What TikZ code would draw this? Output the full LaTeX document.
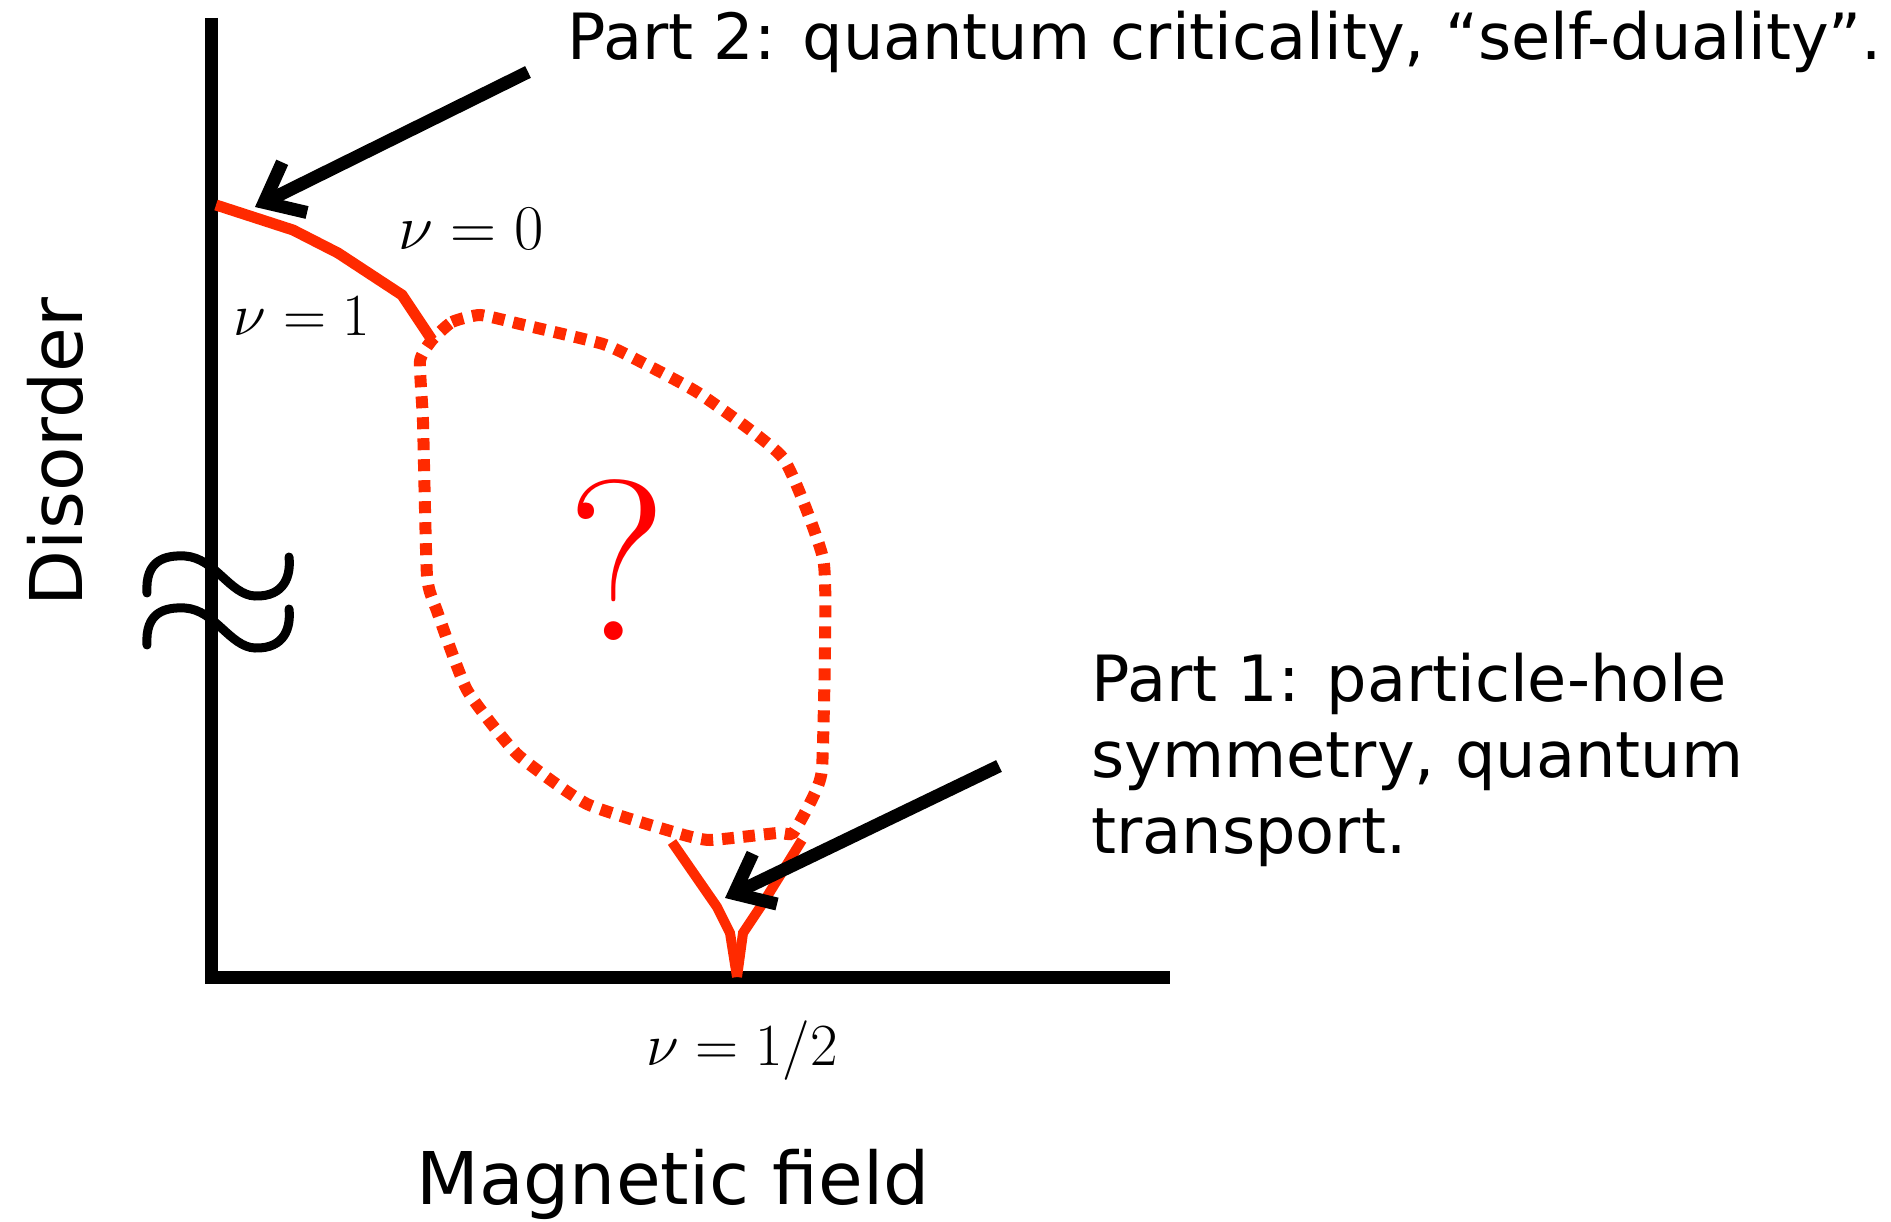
\RequirePackage{fix-cm}
\documentclass[tikz,border=0pt]{standalone}
\usepackage{fontspec}
\usetikzlibrary{arrows.meta}
\newfontfamily\verd{DejaVu Sans}
\definecolor{phred}{RGB}{255,42,0}

\begin{document}
\begin{tikzpicture}[x=0.5bp,y=-0.5bp,
    axis/.style={line width=6.5bp},
    phase/.style={phred,line width=5.5bp},
    cusp/.style={phred,line width=5bp},
    unknown/.style={phred,line width=6bp,dash pattern=on 6bp off 4.5bp},
    squiggle/.style={line width=4.5bp,line cap=round},
    pointer/.style={line width=6.5bp,-{Straight Barb[length=17bp,width=28bp]}},
    note/.style={font=\verd\fontsize{32}{38}\selectfont,inner sep=0pt},
    axlabel/.style={font=\verd\fontsize{36.5}{40}\selectfont,inner sep=0pt}]
  \useasboundingbox (0,0) rectangle (1891,1222);
  \coordinate (O) at (211,977);
  \coordinate (T) at (211,18);
  \coordinate (R) at (1170,977);
  \coordinate (J) at (432,340);
  \coordinate (H) at (737,977);
  \draw[axis] (T) -- (O) -- (R);
  % axis break
  \foreach \dy in {0,52}
    \draw[squiggle,shift={(0,\dy)}] (147,593) .. controls (145,560) and (165,555) .. (185,556)
      .. controls (215,558) and (230,595) .. (255,596) .. controls (285,597) and (291,575) .. (289,557);
  % phase boundaries
  \draw[phase] (216,205) -- (293,230) -- (338,253) -- (402,295) -- (J);
  \draw[cusp] (672,842) -- (717,907) -- (730,933) -- (H);
  \draw[cusp] (802,840) -- (763,903) -- (743,933) -- (H);
  \draw[unknown] plot[smooth cycle,tension=0.3] coordinates {(J) (452,322) (480,315) (520,324)
    (603,344) (643,363) (700,394) (783,458) (823,558) (825,647) (822,769) (813,797) (793,833)
    (777,833) (710,840) (677,833) (587,804) (517,754) (467,690) (437,611) (427,576) (423,422) (420,361)};
  \node[text=red,font=\fontsize{115}{120}\selectfont,inner sep=0pt,anchor=base] (quest) at (617,640) {?};
  \node[inner sep=0pt,anchor=base,font=\fontsize{32}{36}\selectfont] (nuzero) at (471,250) {$\nu=0$};
  \node[inner sep=0pt,anchor=base,font=\fontsize{30}{34}\selectfont] (nuone) at (302,336) {$\nu=1$};
  \node[inner sep=0pt,anchor=base,font=\fontsize{30}{34}\selectfont] (nuhalf) at (742,1065) {$\nu=1/2$};
  % labels and pointers
  \node[axlabel,rotate=90,anchor=base] (ylabel) at (82,452) {Disorder};
  \node[axlabel,anchor=base] (xlabel) at (673,1204) {Magnetic field};
  \node[note,anchor=base west] (parttwo) at (567,60) {Part 2: quantum criticality, “self-duality”.};
  \node[note,anchor=north west,align=left] (partone) at (1091,653) {Part 1: particle-hole\\symmetry, quantum\\transport.};
  \coordinate (twotail) at (528,72);
  \coordinate (twotip) at (255,207);
  \coordinate (onetail) at (999,766);
  \coordinate (onetip) at (725,898);
  \draw[pointer] (twotail) -- (twotip);
  \draw[pointer] (onetail) -- (onetip);
\end{tikzpicture}
\end{document}
